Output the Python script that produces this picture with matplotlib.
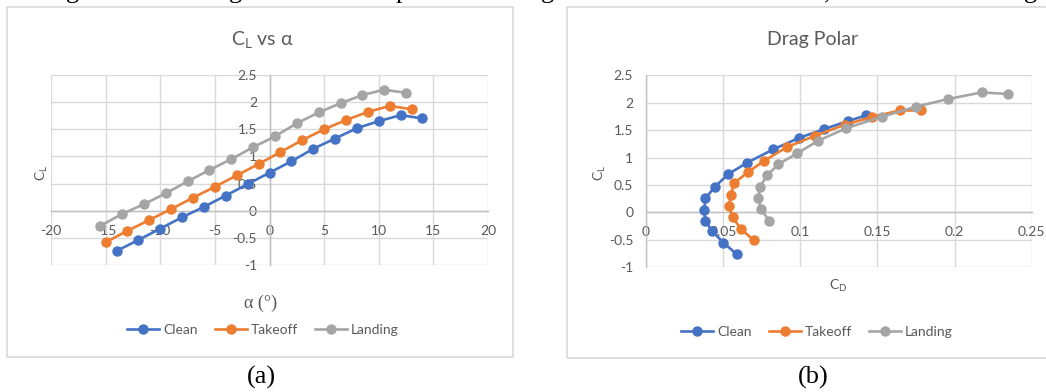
import matplotlib
matplotlib.use("Agg")
import matplotlib.pyplot as plt
from matplotlib.patches import Rectangle
from matplotlib.lines import Line2D

plt.rcParams['font.family'] = ['Lato', 'Open Sans', 'DejaVu Sans']
plt.rcParams['mathtext.default'] = 'regular'
plt.rcParams['axes.unicode_minus'] = False

# ---- data: lift curve ----
alpha_clean = [-14, -12, -10, -8, -6, -4, -2, 0, 2, 4, 6, 8, 10, 12, 14]
cl_clean = [-0.74, -0.54, -0.33, -0.12, 0.07, 0.28, 0.49, 0.70, 0.91, 1.14, 1.33, 1.52, 1.65, 1.76, 1.70]
alpha_takeoff = [-15, -13, -11, -9, -7, -5, -3, -1, 1, 3, 5, 7, 9, 11, 13]
cl_takeoff = [-0.58, -0.37, -0.17, 0.03, 0.24, 0.44, 0.65, 0.86, 1.08, 1.30, 1.50, 1.67, 1.82, 1.93, 1.87]
alpha_landing = [-15.5, -13.5, -11.5, -9.5, -7.5, -5.5, -3.5, -1.5, 0.5, 2.5, 4.5, 6.5, 8.5, 10.5, 12.5]
cl_landing = [-0.28, -0.06, 0.12, 0.32, 0.54, 0.75, 0.95, 1.17, 1.37, 1.61, 1.81, 1.98, 2.13, 2.23, 2.17]

# ---- data: drag polar ----
cd_clean = [0.0589, 0.0503, 0.0430, 0.0387, 0.0378, 0.0387, 0.0449, 0.0535, 0.0658, 0.0826, 0.0993, 0.1155, 0.1312, 0.1427]
clp_clean = [-0.76, -0.55, -0.34, -0.15, 0.04, 0.26, 0.47, 0.70, 0.91, 1.15, 1.36, 1.52, 1.67, 1.77]
cd_takeoff = [0.0701, 0.0617, 0.0563, 0.0541, 0.0550, 0.0574, 0.0665, 0.0766, 0.0913, 0.1097, 0.1290, 0.1464, 0.1645, 0.1780]
clp_takeoff = [-0.51, -0.30, -0.09, 0.11, 0.32, 0.54, 0.74, 0.94, 1.19, 1.40, 1.60, 1.74, 1.86, 1.86]
cd_landing = [0.0799, 0.0747, 0.0729, 0.0740, 0.0788, 0.0859, 0.0982, 0.1118, 0.1297, 0.1528, 0.1752, 0.1960, 0.2176, 0.2349]
clp_landing = [-0.15, 0.06, 0.26, 0.47, 0.68, 0.88, 1.08, 1.31, 1.535, 1.745, 1.93, 2.07, 2.19, 2.16]

series_names = ['Clean', 'Takeoff', 'Landing']
colors = ['#4472C4', '#ED7D31', '#A5A5A5']

alpha_ticks = [-20, -15, -10, -5, 0, 5, 10, 15, 20]
cd_ticks = [0, 0.05, 0.1, 0.15, 0.2, 0.25]
cd_tick_labels = ['0', '0.05', '0.1', '0.15', '0.2', '0.25']
cl_ticks = [-1, -0.5, 0, 0.5, 1, 1.5, 2, 2.5]
cl_tick_labels = ['-1', '-0.5', '0', '0.5', '1', '1.5', '2', '2.5']

W, H = 1046, 392
fig = plt.figure(figsize=(W / 100, H / 100), dpi=100)

TXT = '#595959'
GRID = '#D9D9D9'
AXL = '#BFBFBF'


def px_axes(x0, y0, x1, y1):
    return fig.add_axes([x0 / W, 1 - y1 / H, (x1 - x0) / W, (y1 - y0) / H])


def style(ax):
    ax.set_axisbelow(True)
    ax.grid(True, color=GRID, lw=1)
    for s in ['top', 'right']:
        ax.spines[s].set_visible(False)
    for s in ['left', 'bottom']:
        ax.spines[s].set_color(AXL)
        ax.spines[s].set_linewidth(1)
    ax.spines['bottom'].set_position(('data', 0))
    ax.tick_params(length=0, labelsize=10, labelcolor=TXT)
    ax.tick_params(axis='x', pad=10)
    ax.tick_params(axis='y', pad=9)
    ax.patch.set_alpha(0)


def border(x0, y0, x1, y1):
    fig.add_artist(Rectangle((x0 / W, 1 - y1 / H), (x1 - x0) / W, (y1 - y0) / H,
                             transform=fig.transFigure, fill=False,
                             ec='#D9D9D9', lw=1.2))


border(7, 7, 513, 357)
border(567, 7, 1060, 358)

kw = dict(marker='o', ms=6.5, lw=1.9, zorder=3)

# ---- (a) lift curve ----
ax1 = px_axes(51, 75, 488, 265)
style(ax1)
ax1.spines['left'].set_position(('data', 0))
for x, y, c, n in zip([alpha_clean, alpha_takeoff, alpha_landing],
                      [cl_clean, cl_takeoff, cl_landing], colors, series_names):
    ax1.plot(x, y, color=c, label=n, **kw)
ax1.set_xlim(-20, 20)
ax1.set_ylim(-1, 2.5)
ax1.set_xticks(alpha_ticks)
ax1.set_xticklabels([str(t) for t in alpha_ticks])
ax1.set_yticks(cl_ticks)
ax1.set_yticklabels(cl_tick_labels)

fig.text(262 / W, 1 - 40 / H, r'C$_{L}$ vs α', ha='center', va='center', fontsize=14, color=TXT)
fig.text(42 / W, 1 - 173 / H, r'C$_{L}$', ha='center', va='center', fontsize=10, color=TXT, rotation=90)
fig.text(261 / W, 1 - 303 / H, 'α (°)', ha='center', va='center', fontsize=13, color=TXT,
         family=['Liberation Serif', 'DejaVu Serif'])

# ---- (b) drag polar ----
ax2 = px_axes(645.7, 75.4, 1031.7, 267.3)
style(ax2)
for x, y, c, n in zip([cd_clean, cd_takeoff, cd_landing],
                      [clp_clean, clp_takeoff, clp_landing], colors, series_names):
    ax2.plot(x, y, color=c, label=n, **kw)
ax2.set_xlim(0, 0.25)
ax2.set_ylim(-1, 2.5)
ax2.set_xticks(cd_ticks)
ax2.set_xticklabels(cd_tick_labels)
ax2.set_yticks(cl_ticks)
ax2.set_yticklabels(cl_tick_labels)

fig.text(813 / W, 1 - 40 / H, 'Drag Polar', ha='center', va='center', fontsize=14, color=TXT)
fig.text(600 / W, 1 - 173 / H, r'C$_{L}$', ha='center', va='center', fontsize=10, color=TXT, rotation=90)
fig.text(838 / W, 1 - 286 / H, r'C$_{D}$', ha='center', va='center', fontsize=10, color=TXT)

# ---- legends ----
handles = [Line2D([], [], color=c, marker='o', ms=6.5, lw=1.9) for c in colors]
for cx, cy in [(263, 330), (817, 332)]:
    fig.legend(handles, series_names, loc='center', bbox_to_anchor=(cx / W, 1 - cy / H),
               ncol=3, frameon=False, fontsize=10, labelcolor=TXT, handlelength=2.3,
               handletextpad=0.3, columnspacing=1.2, borderpad=0)

# ---- sub-figure captions ----
serif = ['Liberation Serif', 'DejaVu Serif']
fig.text(261 / W, 1 - 377 / H, '(a)', ha='center', va='center', fontsize=19, family=serif, color='black')
fig.text(813 / W, 1 - 377 / H, '(b)', ha='center', va='center', fontsize=19, family=serif, color='black')

# ---- descenders of the caption line above (cut off at the top edge) ----
for x, ch in [(72, 'g'), (235, 'g'), (402, 'p'), (547, 'g'), (827, ','), (1030, 'g')]:
    fig.text(x / W, 1 + 2 / H, ch, ha='center', va='baseline', fontsize=19, family=serif, color='black')

fig.savefig('out.png', dpi=100)
